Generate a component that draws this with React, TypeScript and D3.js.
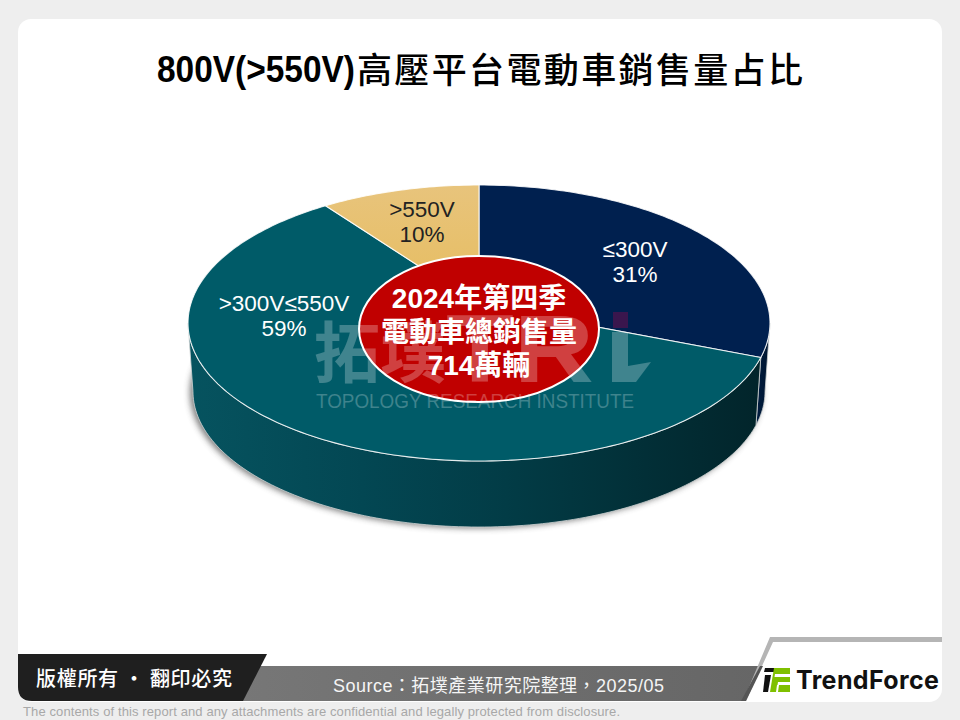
import React from 'react';
import * as d3 from 'd3';

// slices clockwise from 12 o'clock
const categories = ['≤300V', '>300V≤550V', '>550V'];
const shares = [31, 59, 10];
const sliceFills = ['#00204f', '#005b68', 'url(#goldTop)'];
const wallFills = ['url(#navyWall)', 'url(#tealWall)', '#c9a24f'];
const labelColors = ['#ffffff', '#ffffff', '#222222'];
const labelCenters: [number, number][] = [[635, 250], [284, 304], [422, 210]];

const titleLatin = '800V(>550V)';
const titleCjk = '高壓平台電動車銷售量占比';
const centerLines = ['2024年第四季', '電動車總銷售量', '714萬輛'];

// pie is a tilted disc, so the apex sits above the middle of the ellipse
const apexX = 479;
const apexY = 305;
const spanX = 288.5;
const spanY = 135.65;
const tilt = 0.1304;
const depth = 68.7;
const lowerScale = 0.983;

const project = (theta: number, lower = false): [number, number] => {
  const d = 1 + tilt * Math.cos(theta);
  const s = lower ? lowerScale : 1;
  return [
    apexX + (s * spanX * Math.sin(theta)) / d,
    apexY - (s * spanY * Math.cos(theta)) / d + (lower ? depth : 0),
  ];
};

const line = d3.line<[number, number]>();
const samples = (a: number, b: number) => {
  const n = Math.max(2, Math.ceil(Math.abs(b - a) / 0.02));
  return d3.range(n + 1).map(i => a + ((b - a) * i) / n);
};

const pie = d3.pie<number>().sort(null).startAngle(0).endAngle(2 * Math.PI);
const arcs = pie(shares);

const slicePath = (a: number, b: number) =>
  line([[apexX, apexY], ...samples(a, b).map(t => project(t))])! + 'Z';

const visFrom = Math.acos(-tilt);
const visTo = 2 * Math.PI - visFrom;

const wallPath = (a: number, b: number) => {
  const from = Math.max(a, visFrom);
  const to = Math.min(b, visTo);
  if (to <= from) return '';
  const top = samples(from, to).map(t => project(t));
  const bottom = samples(to, from).map(t => project(t, true));
  return line([...top, ...bottom])! + 'Z';
};

const outlineLower = line(samples(0, 2 * Math.PI).map(t => project(t, true)))! + 'Z';

const sans = '"Liberation Sans", Arial, "Noto Sans CJK TC", sans-serif';
const cjk = '"Noto Sans CJK TC", sans-serif';

export default function App() {
  return (
    <svg
      width={960}
      height={720}
      viewBox="0 0 960 720"
      style={{ position: 'absolute', left: 0, top: 0, display: 'block' }}
    >
      <defs>
        <linearGradient id="tealWall" gradientUnits="userSpaceOnUse" x1={190} x2={765} y1={0} y2={0}>
          <stop offset="0" stopColor="#06535f" />
          <stop offset="0.3" stopColor="#034753" />
          <stop offset="0.55" stopColor="#023c46" />
          <stop offset="1" stopColor="#02242a" />
        </linearGradient>
        <linearGradient id="navyWall" x1="0" x2="1" y1="0" y2="0">
          <stop offset="0" stopColor="#001c40" />
          <stop offset="1" stopColor="#00152f" />
        </linearGradient>
        <linearGradient id="goldTop" x1="0" x2="0" y1="0" y2="1">
          <stop offset="0" stopColor="#e8c47c" />
          <stop offset="1" stopColor="#e6bc5e" />
        </linearGradient>
        <linearGradient id="band" x1="0" x2="1" y1="0" y2="0">
          <stop offset="0" stopColor="#777777" />
          <stop offset="1" stopColor="#666666" />
        </linearGradient>
        <filter id="soft" x="-10%" y="-10%" width="120%" height="120%">
          <feGaussianBlur stdDeviation="3" />
        </filter>
      </defs>

      <rect width={960} height={720} fill="#eeeeee" />
      <rect x={18} y={19} width={924} height={683} rx={13} fill="#ffffff" />

      <text x={157} y={82} fontSize={36} fontWeight={700} fill="#000000" fontFamily={'"Liberation Sans Narrow", "Liberation Sans", sans-serif'} textLength={198} lengthAdjust="spacingAndGlyphs">
        {titleLatin}
      </text>
      <text x={357} y={83} fontSize={35} fontWeight={500} fill="#000000" fontFamily={cjk} textLength={446}>
        {titleCjk}
      </text>

      <path d={outlineLower} fill="#444444" opacity={0.7} filter="url(#soft)" transform="translate(-3 1)" />

      {arcs.map((a, i) => {
        const d = wallPath(a.startAngle, a.endAngle);
        return d ? <path key={categories[i]} d={d} fill={wallFills[i]} stroke="#d0d4d4" strokeWidth={0.8} /> : null;
      })}

      {arcs.map((a, i) => (
        <path
          key={categories[i]}
          d={slicePath(a.startAngle, a.endAngle)}
          fill={sliceFills[i]}
          stroke="#ffffff"
          strokeOpacity={0.85}
          strokeWidth={1.1}
          strokeLinejoin="round"
        />
      ))}

      {categories.map((c, i) => (
        <text key={c} x={labelCenters[i][0]} y={labelCenters[i][1]} textAnchor="middle" fontSize={22.5} fill={labelColors[i]} fontFamily={sans}>
          <tspan x={labelCenters[i][0]} dy={7}>{c}</tspan>
          <tspan x={labelCenters[i][0]} dy={25}>{shares[i]}%</tspan>
        </text>
      ))}

      <ellipse cx={479} cy={329} rx={120} ry={73} fill="#c00000" stroke="#ffffff" strokeWidth={2} />
      {centerLines.map((t, i) => (
        <text key={t} x={479} y={308 + i * 33.5} textAnchor="middle" fontSize={28} fontWeight={700} fill="#ffffff" fontFamily={sans}>
          {t}
        </text>
      ))}

      {/* watermark */}
      <g fill="#ffffff" fillOpacity={0.25}>
        <text x={314} y={377} fontSize={66} fontWeight={700} fontFamily={cjk}>拓墣</text>
        <text x={446} y={382} fontSize={96} fontWeight={700} fontFamily={sans} textLength={148} lengthAdjust="spacingAndGlyphs">TR</text>
        <path d="M612 332H628V366L651 362L636 382H612Z" />
        <text x={316} y={408} fontSize={20.5} fontFamily={sans} textLength={318} lengthAdjust="spacingAndGlyphs">TOPOLOGY RESEARCH INSTITUTE</text>
      </g>
      <rect x={613} y={312} width={15} height={16} fill="#c0004a" fillOpacity={0.3} />

      {/* footer */}
      <path d="M240 666H760L743 701H232Z" fill="url(#band)" />
      <path d="M18 654H267L243 701H32Q18 701 18 687Z" fill="#1f1f1f" />
      <text x={36} y={686} fontSize={20} fontWeight={500} fill="#ffffff" fontFamily={cjk} textLength={196}>版權所有 · 翻印必究</text>
      <text x={333} y={692} fontSize={18} fill="#f5f5f5" fontFamily={sans} textLength={331}>Source：拓墣產業研究院整理，2025/05</text>
      <text x={23} y={716} fontSize={13} fill="#a8a8a8" fontFamily={sans} textLength={597}>The contents of this report and any attachments are confidential and legally protected from disclosure.</text>

      <path d="M770 637H942V642H773L746 701H743Z" fill="#b5b5b5" />
      <path d="M760 666H763L746 701H741Z" fill="#555555" />
      <path d="M765 668H779L777 672H764Z" fill="#111111" />
      <path d="M765 675H771L768 692H763Z" fill="#111111" />
      <path d="M774 668H790V692H770Z" fill="#7fc000" />
      <path d="M775 674H790V677H774.500Z" fill="#ffffff" />
      <path d="M778 682H790V685H777.500Z" fill="#ffffff" />
      <path d="M777 685H779L778 692H776Z" fill="#ffffff" />
      <text x={796} y={689} fontSize={25} fontWeight={700} fill="#111111" fontFamily={'Inter, "Liberation Sans", sans-serif'} textLength={143}>TrendForce</text>
    </svg>
  );
}
